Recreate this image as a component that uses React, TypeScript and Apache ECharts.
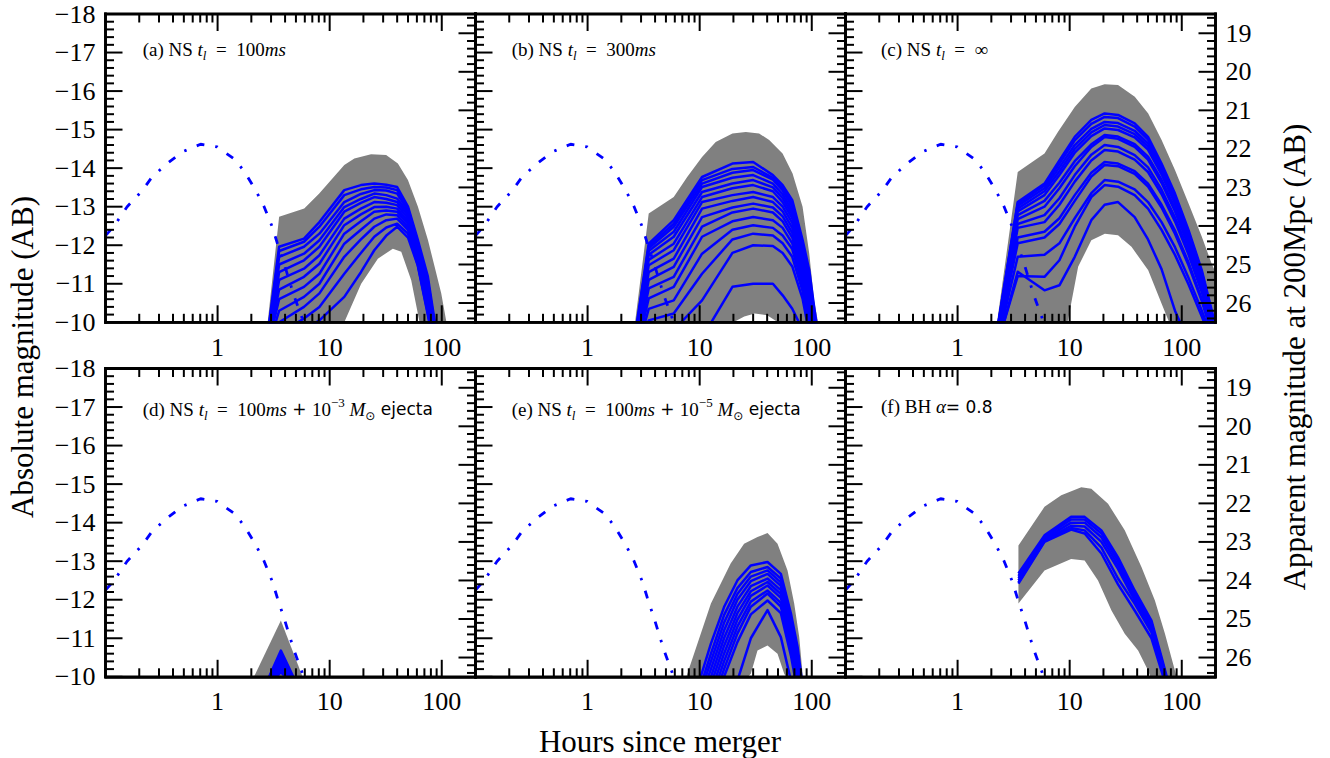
import React, { useEffect, useRef } from "react";
import * as echarts from "echarts";

const SERIF = "'Liberation Serif', 'DejaVu Serif', serif";
const SANS = "'DejaVu Sans', sans-serif";
const BLUE = "#0000ff";
const GRAY = "#808080";

// ---------- ticks ----------
const X_TICK_LABELS = [1, 10, 100];
const X_MINOR_DECADES = [0.1, 1, 10];
const ABS_TICKS = [-18, -17, -16, -15, -14, -13, -12, -11, -10];
const APP_TICKS = [19, 20, 21, 22, 23, 24, 25, 26];
const DIST_MOD = 36.5; // 200 Mpc distance modulus

// ---------- common dash-dot curve (time in hours, absolute mag) ----------
const DD_T = [0.1, 0.118, 0.156, 0.212, 0.26, 0.366, 0.483, 0.705, 0.993, 1.45, 1.78, 2.23, 2.6, 3.09, 3.42, 3.93, 4.82, 5.73, 7.0];
const DD_M = [-12.25, -12.48, -13.0, -13.41, -13.77, -14.15, -14.42, -14.62, -14.55, -14.21, -13.86, -13.38, -13.0, -12.46, -12.04, -11.51, -10.68, -10.08, -9.3];

// ---------- panel (a) ----------
const A_UP_T = [2.75, 3.54, 5.93, 8.07, 13.5, 16.6, 23.4, 31.9, 40.6, 49.9, 61.3, 75.4, 86.4, 99, 110, 130];
const A_UP = [-9.8, -12.74, -12.95, -13.34, -14.08, -14.25, -14.36, -14.34, -14.12, -13.69, -13.0, -12.13, -11.44, -10.75, -10.01, -9.0];
const A_LO_T = [2.75, 3.54, 8, 13.5, 19.1, 26.9, 36.6, 43.5, 53.4, 63.4, 75, 130];
const A_LO = [-9.8, -9.0, -9.3, -10.0, -11.0, -11.65, -11.91, -11.83, -11.09, -10.0, -9.0, -9.0];
const A_T = [2.8, 3.54, 5.9, 8.1, 13.5, 19, 25, 32, 40, 50, 61, 75, 90, 110];
const A1 = [-9.7, -11.96, -12.17, -12.6, -13.43, -13.56, -13.6, -13.57, -13.51, -13.0, -12.15, -11.2, -9.7, -8.5];
const A2 = [-9.65, -11.85, -12.09, -12.48, -13.3, -13.45, -13.51, -13.5, -13.43, -12.95, -12.08, -11.1, -9.6, -8.5];
const A3 = [-9.6, -11.7, -11.96, -12.3, -13.12, -13.33, -13.43, -13.42, -13.34, -12.9, -12.0, -11.0, -9.5, -8.5];
const A4 = [-9.55, -11.5, -11.78, -12.13, -12.99, -13.2, -13.34, -13.3, -13.21, -12.84, -11.93, -10.9, -9.4, -8.5];
const A5 = [-9.5, -11.3, -11.61, -11.96, -12.87, -13.1, -13.25, -13.2, -13.12, -12.78, -11.86, -10.8, -9.3, -8.5];
const A6 = [-9.45, -11.1, -11.39, -11.74, -12.69, -12.95, -13.12, -13.1, -13.04, -12.7, -11.8, -10.7, -9.2, -8.5];
const A7 = [-9.4, -10.85, -11.18, -11.52, -12.52, -12.8, -12.99, -13.0, -12.95, -12.62, -11.73, -10.6, -9.1, -8.5];
const A8 = [-9.35, -10.6, -10.92, -11.26, -12.3, -12.62, -12.87, -12.9, -12.87, -12.55, -11.66, -10.5, -9.0, -8.5];
const A9 = [-9.3, -10.3, -10.66, -11.0, -12.04, -12.4, -12.69, -12.8, -12.78, -12.47, -11.6, -10.4, -9.0, -8.5];
const A10 = [-9.25, -10.0, -10.4, -10.75, -11.7, -12.15, -12.48, -12.65, -12.69, -12.4, -11.55, -10.3, -9.0, -8.5];
const A11 = [-9.2, -9.7, -10.1, -10.4, -11.26, -11.8, -12.22, -12.46, -12.56, -12.3, -11.5, -10.25, -9.0, -8.5];
const A12 = [-9.1, -9.4, -9.8, -10.05, -10.66, -11.3, -11.87, -12.25, -12.48, -12.2, -11.48, -10.2, -9.0, -8.5];

// ---------- panel (b) ----------
const B_UP_T = [2.6, 3.51, 5.87, 7.74, 10.5, 13.9, 19.6, 25.8, 33.9, 41.7, 54.9, 67.4, 82.8, 95, 105, 113, 130];
const B_UP = [-9.8, -12.82, -13.25, -13.77, -14.29, -14.68, -14.9, -14.94, -14.9, -14.73, -14.38, -13.86, -13.0, -11.78, -10.57, -10.05, -8.8];
const B_LO_T = [2.6, 3.51, 10, 18, 20, 25, 31, 40, 50, 60, 130];
const B_LO = [-9.8, -8.5, -8.8, -9.9, -10.0, -10.15, -10.23, -10.18, -10.0, -9.8, -8.8];
const B_T = [2.6, 3.51, 5.87, 10.5, 19.6, 30, 45, 55, 67, 83, 95, 105, 115];
const B1 = [-9.5, -12.04, -12.65, -13.77, -14.12, -14.16, -13.82, -13.56, -13.17, -12.13, -11.35, -10.4, -9.6];
const B2 = [-9.45, -11.98, -12.56, -13.69, -13.98, -14.03, -13.75, -13.48, -13.08, -12.0, -11.2, -10.25, -9.5];
const B3 = [-9.4, -11.92, -12.48, -13.6, -13.88, -13.95, -13.7, -13.42, -13.0, -11.9, -11.05, -10.1, -9.4];
const B4 = [-9.35, -11.85, -12.35, -13.51, -13.75, -13.82, -13.6, -13.32, -12.9, -11.8, -10.9, -10.0, -9.3];
const B5 = [-9.3, -11.75, -12.22, -13.38, -13.6, -13.69, -13.5, -13.22, -12.8, -11.7, -10.75, -9.9, -9.2];
const B6 = [-9.25, -11.62, -12.04, -13.25, -13.48, -13.56, -13.4, -13.12, -12.7, -11.6, -10.6, -9.8, -9.1];
const B7 = [-9.2, -11.48, -11.87, -13.12, -13.3, -13.38, -13.25, -13.0, -12.58, -11.5, -10.45, -9.7, -9.0];
const B8 = [-9.15, -11.3, -11.65, -12.95, -13.15, -13.25, -13.12, -12.88, -12.45, -11.4, -10.3, -9.6, -9.0];
const B9 = [-9.1, -11.1, -11.44, -12.73, -12.98, -13.08, -12.98, -12.75, -12.32, -11.3, -10.2, -9.5, -9.0];
const B10 = [-9.05, -10.88, -11.18, -12.48, -12.85, -12.95, -12.85, -12.62, -12.2, -11.2, -10.1, -9.4, -9.0];
const B11 = [-9.0, -10.62, -10.92, -12.22, -12.62, -12.73, -12.65, -12.45, -12.05, -11.1, -10.0, -9.3, -9.0];
const B12 = [-8.95, -10.35, -10.57, -11.78, -12.4, -12.52, -12.45, -12.25, -11.9, -10.95, -9.9, -9.2, -9.0];
const B13 = [-8.9, -10.05, -10.23, -11.26, -12.15, -12.3, -12.25, -12.05, -11.7, -10.8, -9.8, -9.1, -9.0];
const B14 = [-8.85, -9.7, -9.8, -10.57, -11.8, -12.0, -11.98, -11.8, -11.45, -10.6, -9.7, -9.0, -9.0];
const B15 = [-8.8, -9.2, -9.2, -9.6, -10.92, -11.0, -11.0, -10.7, -10.35, -9.8, -9.4, -9.0, -9.0];

// ---------- panel (c) ----------
const C_UP_T = [2.2, 3.44, 5.96, 7.85, 11.1, 15.6, 20.5, 27, 38.1, 50.2, 66.1, 87, 115, 151, 185, 230];
const C_UP = [-9.8, -13.9, -14.38, -14.94, -15.59, -16.07, -16.18, -16.16, -15.85, -15.42, -14.73, -13.95, -13.08, -12.22, -11.52, -10.9];
const C_LO_T = [2.2, 3.44, 8, 9.66, 11.9, 15.6, 20.6, 27, 35.6, 50.2, 66, 75.9, 100, 230];
const C_LO = [-9.8, -8.5, -9.6, -10.05, -11.44, -12.13, -12.3, -12.26, -11.96, -11.35, -10.49, -10.05, -9.2, -8.5];
const C_T = [2.2, 3.44, 5.96, 8.1, 11.1, 15.6, 20.5, 27, 38, 50, 66, 87, 115, 151, 185, 230];
const C1 = [-9.6, -13.12, -13.6, -14.2, -14.81, -15.25, -15.42, -15.38, -15.16, -14.81, -14.12, -13.34, -12.39, -11.35, -10.31, -9.2];
const C2 = [-9.6, -13.08, -13.55, -14.12, -14.72, -15.15, -15.33, -15.3, -15.08, -14.74, -14.06, -13.28, -12.33, -11.29, -10.25, -9.15];
const C3 = [-9.55, -13.02, -13.48, -14.02, -14.6, -15.02, -15.2, -15.17, -14.97, -14.64, -13.98, -13.2, -12.27, -11.22, -10.2, -9.1];
const C4 = [-9.55, -12.95, -13.4, -13.92, -14.5, -14.93, -15.12, -15.08, -14.88, -14.56, -13.91, -13.14, -12.21, -11.16, -10.15, -9.05];
const C5 = [-9.5, -12.88, -13.3, -13.82, -14.4, -14.83, -15.03, -14.99, -14.8, -14.48, -13.84, -13.08, -12.15, -11.1, -10.1, -9.0];
const C6 = [-9.5, -12.78, -13.15, -13.62, -14.18, -14.62, -14.86, -14.82, -14.62, -14.3, -13.7, -12.95, -12.05, -11.0, -10.0, -9.0];
const C7 = [-9.45, -12.68, -13.0, -13.48, -14.05, -14.55, -14.81, -14.76, -14.55, -14.22, -13.62, -12.88, -11.98, -10.95, -9.95, -9.0];
const C8 = [-9.4, -12.55, -12.78, -13.22, -13.82, -14.35, -14.6, -14.55, -14.34, -14.02, -13.44, -12.72, -11.85, -10.85, -9.9, -9.0];
const C9 = [-9.4, -12.45, -12.6, -13.05, -13.65, -14.2, -14.47, -14.43, -14.22, -13.9, -13.33, -12.62, -11.76, -10.78, -9.85, -9.0];
const C10 = [-9.35, -12.2, -12.35, -12.7, -13.3, -13.88, -14.16, -14.12, -13.92, -13.6, -13.05, -12.38, -11.55, -10.6, -9.75, -9.0];
const C11 = [-9.35, -12.05, -12.2, -12.55, -13.15, -13.78, -14.08, -14.05, -13.85, -13.52, -12.98, -12.3, -11.48, -10.55, -9.7, -9.0];
const C12 = [-9.3, -11.7, -11.75, -12.05, -12.7, -13.35, -13.69, -13.65, -13.45, -13.12, -12.6, -11.95, -11.15, -10.3, -9.6, -9.0];
const C13 = [-9.3, -11.2, -11.18, -11.61, -12.48, -13.25, -13.56, -13.52, -13.3, -12.95, -12.4, -11.75, -10.98, -10.15, -9.5, -9.0];
const C14 = [-9.25, -11.31, -10.83, -10.96, -11.7, -12.65, -13.05, -13.12, -12.73, -12.15, -11.38, -10.3, -9.5, -9.0, -9.0, -9.0];

// ---------- panel (d) ----------
const D_UP_T = [2.11, 3.67, 5.73];
const D_UP = [-10.0, -11.46, -10.0];
const D_LO_T = [2.11, 5.73];
const D_LO = [-9.8, -9.8];
const D_T = [2.5, 3.67, 5.5];
const D1 = [-9.6, -10.68, -9.6];
const D2 = [-9.6, -10.6, -9.6];
const D3 = [-9.6, -10.52, -9.6];
const D4 = [-9.6, -10.44, -9.6];
const D5 = [-9.6, -10.36, -9.6];
const D6 = [-9.6, -10.28, -9.6];
const D7 = [-9.6, -10.2, -9.6];
const D8 = [-9.6, -10.12, -9.6];

// ---------- panel (e) ----------
const E_UP_T = [7, 7.6, 12.6, 18.9, 24.9, 32.8, 40.3, 49.5, 60.8, 69.7, 77.3, 82.8, 95];
const E_UP = [-9.8, -10.0, -11.9, -12.94, -13.45, -13.63, -13.73, -13.45, -12.76, -11.9, -11.03, -10.08, -9.0];
const E_LO_T = [7, 20, 28.6, 32.8, 40.3, 49.5, 56.8, 95];
const E_LO = [-9.8, -9.6, -10.08, -10.68, -10.81, -10.6, -10.08, -9.0];
const E_T = [8, 12.6, 16.5, 21.7, 28.6, 40.3, 53, 65.2, 74.8, 85];
const E1 = [-9.0, -10.86, -11.81, -12.5, -12.89, -12.98, -12.67, -11.64, -10.77, -9.5];
const E2 = [-8.8, -10.6, -11.6, -12.3, -12.72, -12.85, -12.55, -11.5, -10.6, -9.4];
const E3 = [-8.7, -10.4, -11.4, -12.15, -12.6, -12.76, -12.45, -11.38, -10.45, -9.3];
const E4 = [-8.6, -10.2, -11.2, -12.0, -12.48, -12.67, -12.36, -11.27, -10.3, -9.2];
const E5 = [-8.5, -10.0, -11.0, -11.82, -12.35, -12.55, -12.25, -11.15, -10.15, -9.1];
const E6 = [-8.4, -9.8, -10.8, -11.65, -12.22, -12.46, -12.15, -11.05, -10.0, -9.0];
const E7 = [-8.3, -9.6, -10.6, -11.48, -12.1, -12.37, -12.05, -10.95, -9.9, -9.0];
const E8 = [-8.2, -9.4, -10.4, -11.3, -11.95, -12.24, -11.92, -10.82, -9.8, -9.0];
const E9 = [-8.1, -9.2, -10.2, -11.12, -11.82, -12.16, -11.82, -10.72, -9.7, -9.0];
const E10 = [-8.0, -9.0, -10.0, -10.9, -11.62, -11.98, -11.65, -10.55, -9.6, -9.0];
const E11 = [-8.0, -8.8, -9.3, -9.9, -11.0, -11.73, -11.03, -9.9, -9.4, -9.0];

// ---------- panel (f) ----------
const F_UP_T = [3.49, 5.96, 8.41, 12.7, 15.6, 22, 31, 43.7, 57.6, 70.8, 87, 100];
const F_UP = [-13.41, -14.41, -14.71, -14.92, -14.88, -14.49, -13.8, -12.85, -11.98, -11.12, -10.16, -9.5];
const F_LO_T = [3.49, 5.96, 10.3, 13.6, 17.9, 23.6, 31, 40.8, 50.2, 60, 100];
const F_LO = [-11.9, -12.76, -13.06, -13.02, -12.5, -11.72, -11.12, -10.68, -10.16, -9.5, -9.5];
const F_T = [3.49, 5.96, 10.3, 13.6, 19.2, 27, 38, 53.7, 66, 80, 95];
const F1 = [-12.68, -13.67, -14.15, -14.15, -13.8, -13.1, -12.24, -11.46, -10.51, -9.6, -9.0];
const F2 = [-12.62, -13.62, -14.08, -14.08, -13.72, -13.0, -12.15, -11.38, -10.45, -9.55, -9.0];
const F3 = [-12.56, -13.58, -14.0, -14.0, -13.62, -12.9, -12.06, -11.3, -10.38, -9.5, -9.0];
const F4 = [-12.5, -13.55, -13.92, -13.9, -13.5, -12.8, -11.98, -11.22, -10.3, -9.45, -9.0];
const F5 = [-12.45, -13.52, -13.86, -13.8, -13.35, -12.55, -11.9, -11.15, -10.22, -9.4, -9.0];
const F6 = [-12.42, -13.5, -13.82, -13.72, -13.2, -12.4, -11.72, -11.0, -10.15, -9.35, -9.0];

// ---------- panel texts ----------
const LABELS = [
  "{r|(a) NS }{i|t}{s|l}{r|  =  100}{i|ms}",
  "{r|(b) NS }{i|t}{s|l}{r|  =  300}{i|ms}",
  "{r|(c) NS }{i|t}{s|l}{r|  =  \u221e}",
  "{r|(d) NS }{i|t}{s|l}{r|  =  100}{i|ms}{g| + }{r|10}{p|\u22123}{i| M}{o|\u2299}{g| ejecta}",
  "{r|(e) NS }{i|t}{s|l}{r|  =  100}{i|ms}{g| + }{r|10}{p|\u22125}{i| M}{o|\u2299}{g| ejecta}",
  "{r|(f) BH }{i|\u03b1}{g|= 0.8}",
];

const PANELS = [
  { upT: A_UP_T, up: A_UP, loT: A_LO_T, lo: A_LO, t: A_T, curves: [A1, A2, A3, A4, A5, A6, A7, A8, A9, A10, A11, A12] },
  { upT: B_UP_T, up: B_UP, loT: B_LO_T, lo: B_LO, t: B_T, curves: [B1, B2, B3, B4, B5, B6, B7, B8, B9, B10, B11, B12, B13, B14, B15] },
  { upT: C_UP_T, up: C_UP, loT: C_LO_T, lo: C_LO, t: C_T, curves: [C1, C2, C3, C4, C5, C6, C7, C8, C9, C10, C11, C12, C13, C14] },
  { upT: D_UP_T, up: D_UP, loT: D_LO_T, lo: D_LO, t: D_T, curves: [D1, D2, D3, D4, D5, D6, D7, D8] },
  { upT: E_UP_T, up: E_UP, loT: E_LO_T, lo: E_LO, t: E_T, curves: [E1, E2, E3, E4, E5, E6, E7, E8, E9, E10, E11] },
  { upT: F_UP_T, up: F_UP, loT: F_LO_T, lo: F_LO, t: F_T, curves: [F1, F2, F3, F4, F5, F6] },
];

// ---------- layout ----------
const LEFTS = [105.5, 475.5, 845.5];
const TOPS = [14, 368.5];
const GW = 370;
const GH = 308.3;
const LABEL_X = [142.7, 511.7, 881];
const LABEL_Y = [49.3, 409];
const MAJOR_LEN = 17;
const MINOR_LEN = 8.5;
const TICK_W = 2;
const FRAME_W = 2.8;

function minorXTicks() {
  const out: number[] = [];
  X_MINOR_DECADES.forEach((d) => {
    for (let k = 2; k <= 9; k++) out.push(+(k * d).toFixed(3));
  });
  return out;
}
function minorSteps(from: number, to: number) {
  const out: number[] = [];
  for (let v = from; v <= to + 1e-9; v += 0.2) {
    const r = Math.round(v * 10) / 10;
    if (Math.abs(r - Math.round(r)) > 0.01) out.push(r);
  }
  return out;
}

function buildOption() {
  const grid: any[] = [];
  const xAxis: any[] = [];
  const yAxis: any[] = [];
  const series: any[] = [];
  const graphic: any[] = [];
  const refSeries: number[] = [];

  PANELS.forEach((p, g) => {
    const col = g % 3;
    const row = Math.floor(g / 3);
    grid.push({ left: LEFTS[col], top: TOPS[row], width: GW, height: GH, show: false });

    const xi = xAxis.length;
    xAxis.push({
      type: "log", min: 0.1, max: 200, gridIndex: g, position: "bottom",
      axisLine: { show: true, onZero: false, lineStyle: { color: "#000", width: 2.6 } },
      axisTick: { show: false },
      axisLabel: {
        show: true, margin: 12, fontFamily: SERIF, fontSize: 26, color: "#000",
        formatter: (v: number) => {
          const hit = X_TICK_LABELS.find((t) => Math.abs(t - v) / t < 1e-6);
          return hit !== undefined ? String(hit) : "";
        },
      },
      splitLine: { show: false },
    });

    const yi = yAxis.length;
    yAxis.push({
      type: "value", min: -18, max: -10, interval: 1, inverse: true, gridIndex: g, position: "left",
      axisLine: { show: true, onZero: false, lineStyle: { color: "#000", width: 2.6 } },
      axisTick: { show: false },
      axisLabel: {
        show: col === 0, margin: 10, fontFamily: SERIF, fontSize: 26, color: "#000",
        formatter: (v: number) => (v < 0 ? "\u2212" + Math.abs(v) : String(v)),
      },
      splitLine: { show: false },
    });
    yAxis.push({
      type: "value", min: 18.5, max: 26.5, interval: 0.5, inverse: true, gridIndex: g, position: "right",
      axisLine: { show: true, onZero: false, lineStyle: { color: "#000", width: 2.6 } },
      axisTick: { show: false },
      axisLabel: {
        show: col === 2, margin: 10, fontFamily: SERIF, fontSize: 26, color: "#000",
        formatter: (v: number) => (APP_TICKS.some((t) => Math.abs(t - v) < 1e-6) ? String(Math.round(v)) : ""),
      },
      splitLine: { show: false },
    });

    // grey band
    const poly = [
      ...p.upT.map((t, i) => [t, p.up[i]]),
      ...p.loT.map((t, i) => [t, p.lo[i]]).reverse(),
    ];
    series.push({
      type: "custom", xAxisIndex: xi, yAxisIndex: yi, clip: true, z: 1,
      data: [poly[0]],
      renderItem: (_params: any, api: any) => ({
        type: "polygon",
        shape: { points: poly.map((pt) => api.coord(pt)) },
        style: { fill: GRAY },
      }),
    });
    // blue model curves
    p.curves.forEach((c) => {
      series.push({
        type: "line", xAxisIndex: xi, yAxisIndex: yi, z: 2, clip: true,
        data: p.t.map((t, i) => [t, c[i]]),
        symbol: "none", showSymbol: false,
        lineStyle: { color: BLUE, width: 2.5, join: "round" }, itemStyle: { color: BLUE },
      });
    });
    // dash-dot curve
    refSeries.push(series.length);
    series.push({
      type: "line", xAxisIndex: xi, yAxisIndex: yi, z: 3, clip: true,
      data: DD_T.map((t, i) => [t, DD_M[i]]),
      symbol: "none", showSymbol: false,
      lineStyle: { color: BLUE, width: 2.8, type: [8, 11, 2.5, 11], cap: "butt" }, itemStyle: { color: BLUE },
    });

    graphic.push({
      type: "text", x: LABEL_X[col], y: LABEL_Y[row] + (g === 5 ? -2.3 : 0), z: 20,
      style: {
        text: LABELS[g], align: "left", verticalAlign: "middle", fill: "#000",
        rich: {
          r: { fontFamily: SERIF, fontSize: 19, lineHeight: 26, verticalAlign: "middle", fill: "#000" },
          i: { fontFamily: SERIF, fontStyle: "italic", fontSize: 19, lineHeight: 26, verticalAlign: "middle", fill: "#000" },
          s: { fontFamily: SERIF, fontStyle: "italic", fontSize: 13, lineHeight: 13, verticalAlign: "bottom", fill: "#000" },
          p: { fontFamily: SERIF, fontSize: 13, lineHeight: 12, verticalAlign: "top", fill: "#000" },
          o: { fontFamily: SANS, fontSize: 12, lineHeight: 12, verticalAlign: "bottom", fill: "#000" },
          g: { fontFamily: SANS, fontSize: 17, lineHeight: 26, verticalAlign: "middle", fill: "#000" },
        },
      },
    });
  });

  graphic.push(
    {
      type: "text", x: 22, y: 357, rotation: Math.PI / 2,
      style: { text: "Absolute magnitude (AB)", fontFamily: SERIF, fontSize: 31, fill: "#000", align: "center", verticalAlign: "middle" },
    },
    {
      type: "text", x: 1294, y: 357, rotation: Math.PI / 2,
      style: { text: "Apparent magnitude at 200Mpc (AB)", fontFamily: SERIF, fontSize: 31, fill: "#000", align: "center", verticalAlign: "middle" },
    },
    {
      type: "text", x: 660, y: 741,
      style: { text: "Hours since merger", fontFamily: SERIF, fontSize: 31, fill: "#000", align: "center", verticalAlign: "middle" },
    }
  );

  return {
    option: { animation: false, backgroundColor: "#fff", grid, xAxis, yAxis, series, graphic },
    graphic,
    refSeries,
  };
}

// frame and tick marks, placed with the chart's own scales (convertToPixel)
function buildTickGraphics(chart: any, refSeries: number[]) {
  const out: any[] = [];
  const MX = minorXTicks();
  const MABS = minorSteps(-17.8, -10.2);
  const MAPP = minorSteps(18.6, 26.4);
  refSeries.forEach((si) => {
    const px = (x: number, y: number) => chart.convertToPixel({ seriesIndex: si }, [x, y]) as number[];
    const a = px(0.1, -18);
    const b = px(200, -10);
    if (!a || !b) return;
    const L = a[0], T = a[1], R = b[0], B = b[1];
    const bar = (x: number, y: number, w: number, h: number) =>
      out.push({ type: "rect", z: 15, silent: true, shape: { x, y, width: w, height: h }, style: { fill: "#000" } });
    const xAt = (v: number) => px(v, -14)[0];
    const yAt = (v: number) => px(1, v)[1];
    const hw = TICK_W / 2;
    X_TICK_LABELS.forEach((v) => { const x = xAt(v); bar(x - hw, B - MAJOR_LEN, TICK_W, MAJOR_LEN); bar(x - hw, T, TICK_W, MAJOR_LEN); });
    MX.forEach((v) => { const x = xAt(v); bar(x - hw, B - MINOR_LEN, TICK_W, MINOR_LEN); bar(x - hw, T, TICK_W, MINOR_LEN); });
    ABS_TICKS.forEach((v) => { const y = yAt(v); bar(L, y - hw, MAJOR_LEN, TICK_W); });
    MABS.forEach((v) => { const y = yAt(v); bar(L, y - hw, MINOR_LEN, TICK_W); });
    APP_TICKS.forEach((v) => { const y = yAt(v - DIST_MOD); bar(R - MAJOR_LEN, y - hw, MAJOR_LEN, TICK_W); });
    MAPP.forEach((v) => { const y = yAt(v - DIST_MOD); bar(R - MINOR_LEN, y - hw, MINOR_LEN, TICK_W); });
    const fw = FRAME_W / 2;
    bar(L - fw, T - fw, R - L + FRAME_W, FRAME_W);
    bar(L - fw, B - fw, R - L + FRAME_W, FRAME_W);
    bar(L - fw, T - fw, FRAME_W, B - T + FRAME_W);
    bar(R - fw, T - fw, FRAME_W, B - T + FRAME_W);
  });
  return out;
}

export default function App() {
  const ref = useRef<HTMLDivElement>(null);
  useEffect(() => {
    const chart = echarts.init(ref.current as HTMLDivElement, null, { renderer: "svg", width: 1330, height: 758 });
    const built = buildOption();
    chart.setOption(built.option as any);
    try {
      const ticks = buildTickGraphics(chart, built.refSeries);
      chart.setOption({ graphic: [...built.graphic, ...ticks] } as any);
    } catch (e) {
      // keep the chart as drawn if tick placement fails
    }
    return () => chart.dispose();
  }, []);
  return (
    <div
      ref={ref}
      style={{ position: "absolute", left: 0, top: 0, width: 1330, height: 758, background: "#fff" }}
    />
  );
}
